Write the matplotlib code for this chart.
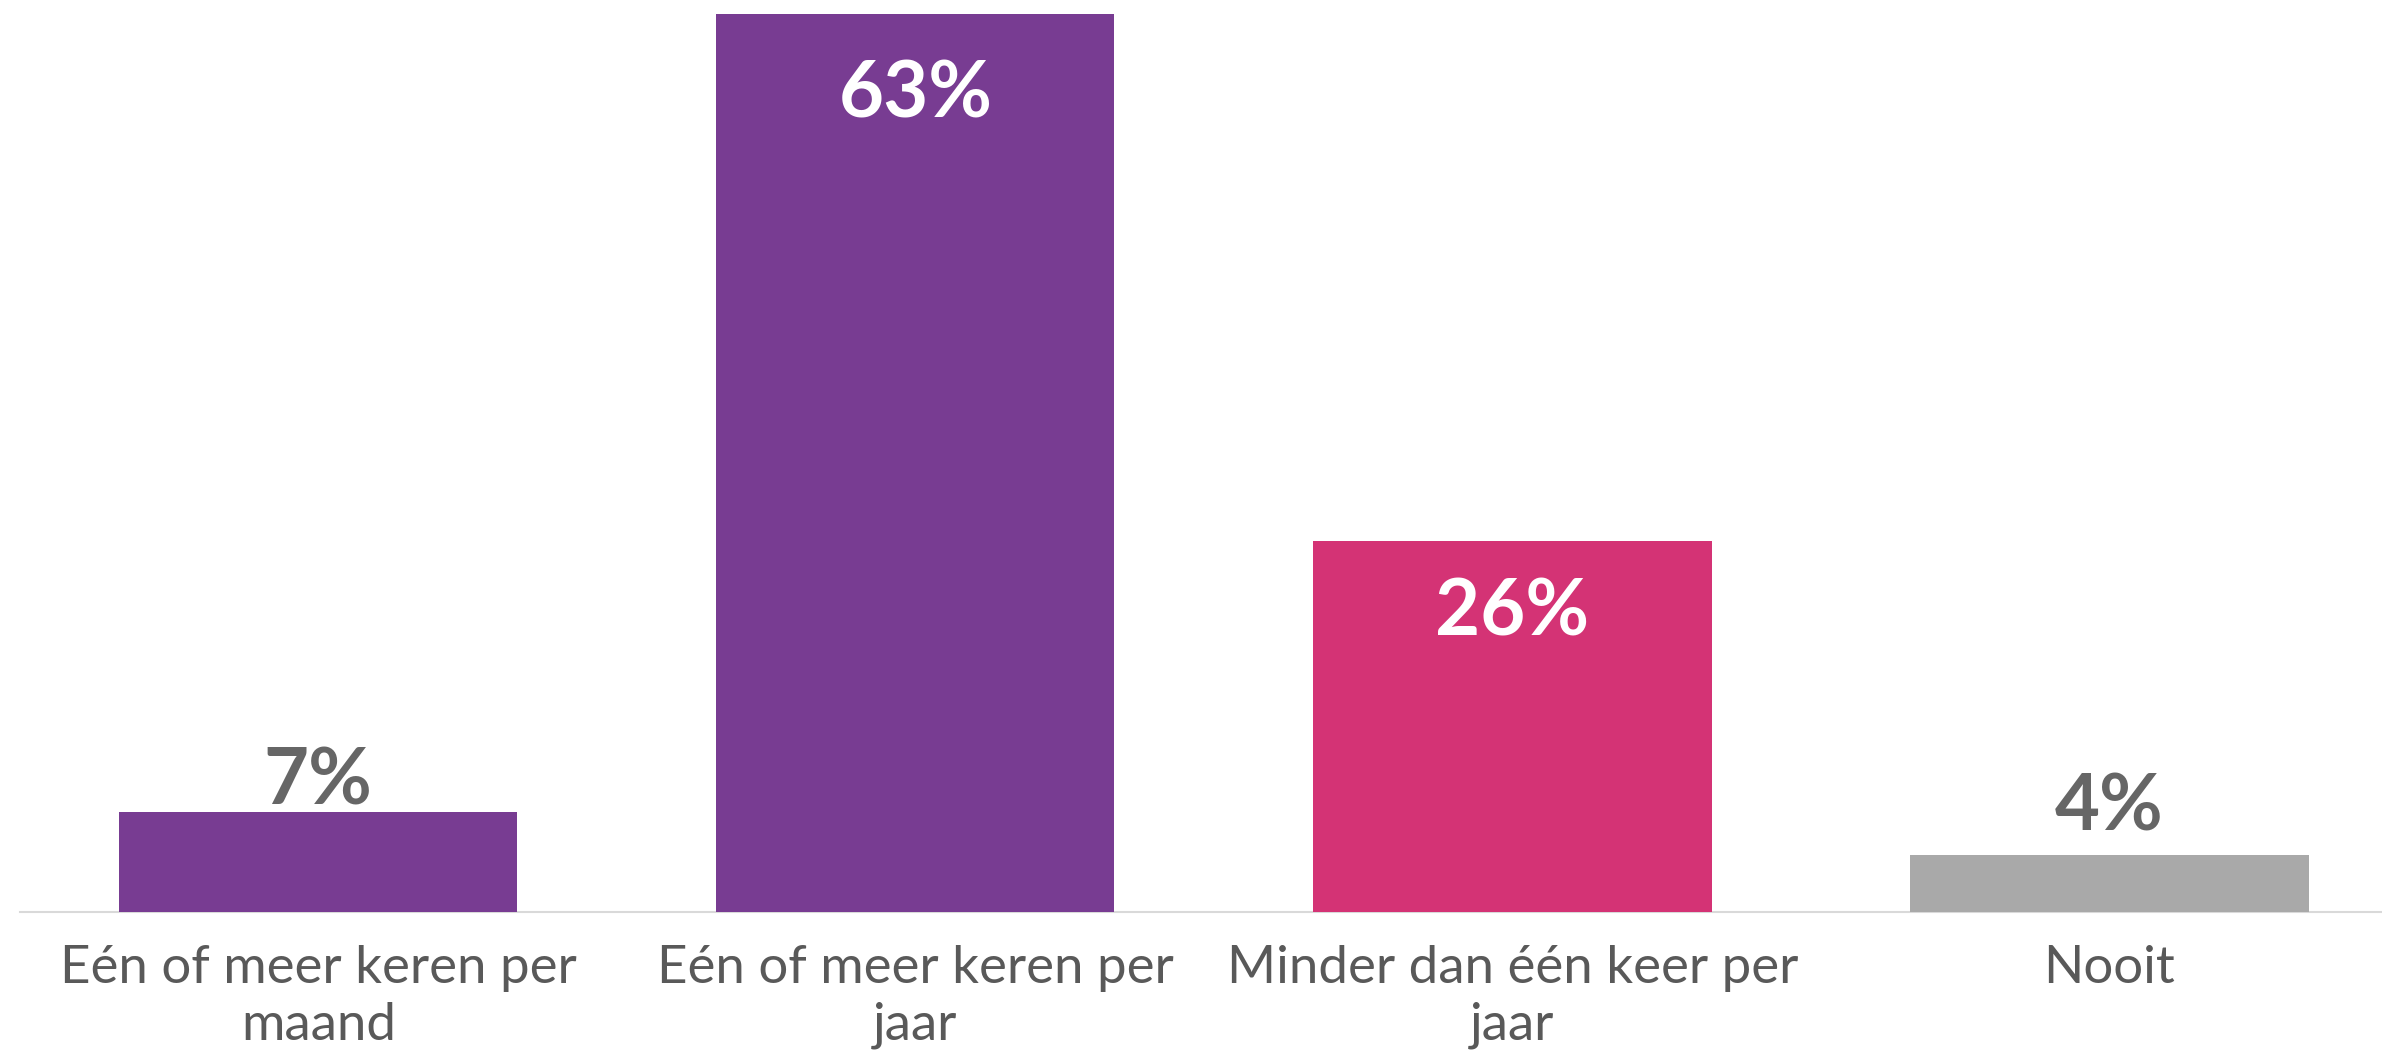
import matplotlib.pyplot as plt

categories = ['Eén of meer keren per\nmaand', 'Eén of meer keren per\njaar',
              'Minder dan één keer per\njaar', 'Nooit']
values = [7, 63, 26, 4]
labels = ['7%', '63%', '26%', '4%']

bar_colors = ['#783C92', '#783C92', '#D43375', '#A9A9A9']
label_colors = ['#666666', '#FFFFFF', '#FFFFFF', '#666666']
# offset of the label baseline from the bar top, in pixels
label_offsets = [8, -103, -94, 24]

fig = plt.figure(figsize=(23.82, 10.58), dpi=100)
ax = fig.add_axes([0.0083, 0.138, 1.0026, 0.862])

x = range(len(categories))
ax.bar(x, values, width=0.667, color=bar_colors, zorder=2)

for i, v in enumerate(values):
    ax.annotate(labels[i], (i, v), xytext=(0, label_offsets[i]),
                textcoords='offset pixels', ha='center', va='baseline',
                fontsize=56, fontweight='bold', color=label_colors[i],
                family='Lato')

ax.set_xlim(-0.5, 3.5)
ax.set_ylim(0, 64)
ax.set_xticks(list(x))
ax.set_xticklabels(categories, fontsize=38, color='#595959',
                   family='Lato', fontweight='normal', linespacing=1.25)
ax.tick_params(axis='x', length=0, pad=24)
ax.set_yticks([])

for s in ['top', 'right', 'left']:
    ax.spines[s].set_visible(False)
ax.spines['bottom'].set_color('#D9D9D9')
ax.spines['bottom'].set_linewidth(1.5)
ax.spines['bottom'].set_zorder(1)

fig.savefig('out.png', dpi=100)
